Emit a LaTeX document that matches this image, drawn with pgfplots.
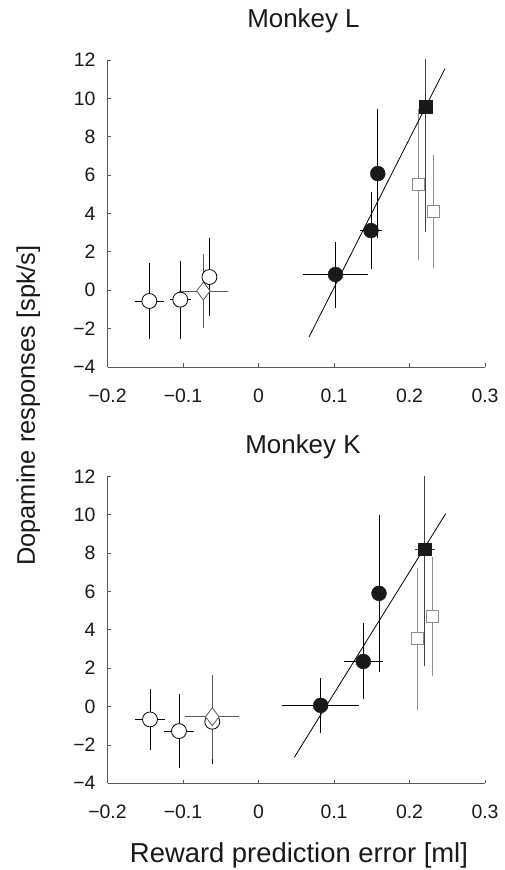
\documentclass[border=0pt]{standalone}
\usepackage{fontspec}
\setmainfont{Liberation Sans}
\usepackage{pgfplots}
\pgfplotsset{compat=1.18}
\definecolor{axgray}{gray}{0.35}
\definecolor{sqgray}{gray}{0.55}
\definecolor{txt}{gray}{0.1}
\pgfplotsset{
  monkey/.style={
    scale only axis, width=377.5bp, height=307bp,
    xmin=-0.2, xmax=0.3, ymin=-4, ymax=12,
    axis lines=left,
    axis line style={-, axgray, line width=0.8bp},
    tick align=inside, major tick length=3.5bp,
    tick style={axgray, line width=0.8bp},
    xtick={-0.2,-0.1,0,0.1,0.2,0.3},
    xticklabels={−0.2,−0.1,0,0.1,0.2,0.3},
    ytick={-4,-2,0,2,4,6,8,10,12},
    yticklabels={−4,−2,0,2,4,6,8,10,12},
    tick label style={font=\fontsize{19.5}{21}\selectfont, text=txt},
    xticklabel style={yshift=-18.5bp},
    yticklabel style={xshift=-8.5bp},
    at={(0,0)}, anchor=south west,
  },
  opencirc/.style={only marks, mark=*, mark size=7.5pt,
    mark options={fill=white, draw=black, line width=0.8bp},
    error bars/.cd, x dir=both, x explicit, y dir=both, y explicit,
    error bar style={black, line width=0.8bp}, error mark=none},
  diam/.style={only marks, mark=diamond*, mark size=9pt,
    mark options={fill=white, draw=axgray, line width=0.8bp},
    error bars/.cd, x dir=both, x explicit, y dir=both, y explicit,
    error bar style={axgray, line width=0.8bp}, error mark=none},
  fillcirc/.style={only marks, mark=*, mark size=7.5pt,
    mark options={fill=black!90, draw=black!90},
    error bars/.cd, x dir=both, x explicit, y dir=both, y explicit,
    error bar style={black, line width=0.8bp}, error mark=none},
  fillsq/.style={only marks, mark=square*, mark size=6.5pt,
    mark options={fill=black!90, draw=black!90},
    error bars/.cd, x dir=both, x explicit, y dir=both, y explicit,
    error bar style={black!75, line width=1bp},
    error mark=-, error mark options={mark size=2.5pt, line width=1bp, black!75}},
  opensq/.style={only marks, mark=square*, mark size=6pt,
    mark options={fill=white, draw=sqgray, line width=0.8bp},
    error bars/.cd, x dir=both, x explicit, y dir=both, y explicit,
    error bar style={sqgray, line width=0.8bp},
    error mark=-, error mark options={mark size=2pt, line width=0.8bp, sqgray}},
}
\begin{document}
\begin{tikzpicture}[x=1bp,y=1bp]
\useasboundingbox (-107.5,-503) rectangle (397.5,367);
% ---------------- Monkey L ----------------
\begin{axis}[monkey]
\addplot[opensq] coordinates {
  (0.2117,5.50) +- (0,3.82)
  (0.2315,4.11) +- (0,2.85)
};
\addplot[fillsq] coordinates {
  (0.2215,9.58) +- (0,6.40)
};
\addplot[black, line width=0.8bp] coordinates {(0.067,-2.43) (0.247,11.55)};
\addplot[fillcirc] coordinates {
  (0.102,0.82) +- (0.043,1.72)
  (0.149,3.11) +- (0.015,2.00)
  (0.158,6.08) +- (0,3.35)
};
\addplot[diam] coordinates {
  (-0.073,-0.04) +- (0.032,1.95)
};
\addplot[opencirc] coordinates {
  (-0.1446,-0.56) +- (0.019,2.00)
  (-0.1036,-0.49) +- (0.014,2.03)
  (-0.065,0.69) +- (0,2.04)
};
\end{axis}
% ---------------- Monkey K ----------------
\begin{scope}[yshift=-416.3bp]
\begin{axis}[monkey]
\addplot[opensq] coordinates {
  (0.2103,3.53) +- (0,3.60)
  (0.2307,4.68) +- (0,3.00)
};
\addplot[fillsq] coordinates {
  (0.2205,8.20) +- (0.01,5.95)
};
\addplot[black, line width=0.8bp] coordinates {(0.0474,-2.65) (0.248,10.06)};
\addplot[fillcirc] coordinates {
  (0.0824,0.06) +- (0.051,1.45)
  (0.1388,2.35) +- (0.026,1.98)
  (0.1596,5.90) +- (0,4.08)
};
\addplot[opencirc] coordinates {
  (-0.1437,-0.67) +- (0.020,1.60)
  (-0.1053,-1.28) +- (0.020,1.94)
  (-0.0612,-0.79) +- (0,2.20)
};
\addplot[diam] coordinates {
  (-0.0612,-0.53) +- (0.036,2.20)
};
\end{axis}
\end{scope}
% ---------------- titles and labels ----------------
\node[anchor=base, font=\fontsize{26}{28}\selectfont, text=txt] at (196,339) {Monkey L};
\node[anchor=base, font=\fontsize{26}{28}\selectfont, text=txt] at (195.5,-86) {Monkey K};
\node[anchor=base, font=\fontsize{27.5}{30}\selectfont, text=txt] at (191.5,-495) {Reward prediction error [ml]};
\node[anchor=base, rotate=90, font=\fontsize{25.5}{28}\selectfont, text=txt] at (-72.5,-38.5) {Dopamine responses [spk/s]};
\end{tikzpicture}
\end{document}
